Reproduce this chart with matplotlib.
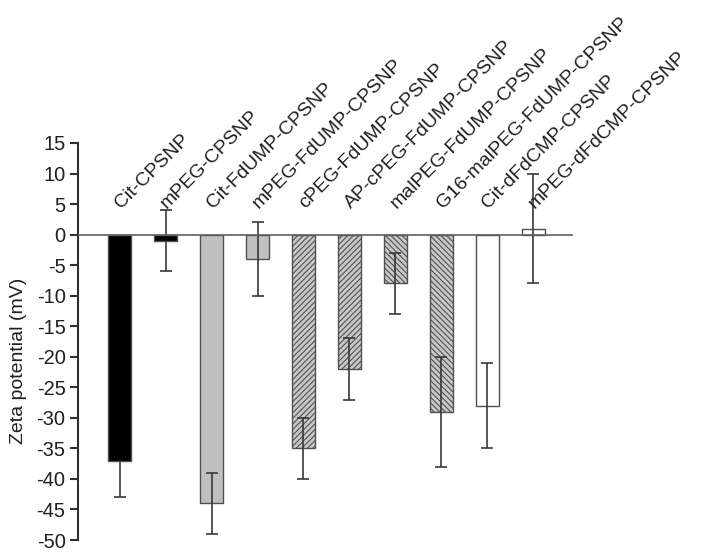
import matplotlib
matplotlib.use("Agg")
import matplotlib.pyplot as plt

plt.rcParams["font.family"] = ["Liberation Sans", "DejaVu Sans"]
plt.rcParams["hatch.color"] = "#404040"
plt.rcParams["hatch.linewidth"] = 0.8

labels = ["Cit-CPSNP", "mPEG-CPSNP", "Cit-FdUMP-CPSNP", "mPEG-FdUMP-CPSNP",
          "cPEG-FdUMP-CPSNP", "AP-cPEG-FdUMP-CPSNP", "malPEG-FdUMP-CPSNP",
          "G16-malPEG-FdUMP-CPSNP", "Cit-dFdCMP-CPSNP", "mPEG-dFdCMP-CPSNP"]
values = [-37, -1, -44, -4, -35, -22, -8, -29, -28, 1]
errors = [6, 5, 5, 6, 5, 5, 5, 9, 7, 9]
faces = ["black", "black", "#c0c0c0", "#c0c0c0", "#c8c8c8", "#c8c8c8",
         "#c8c8c8", "#c8c8c8", "white", "white"]
hatches = ["", "", "", "", "//////", "//////", "\\\\\\\\\\\\", "\\\\\\\\\\\\", "", ""]
yticks = list(range(-50, 16, 5))

fig = plt.figure(figsize=(7.04, 5.56), dpi=100)
ax = fig.add_axes([78 / 704, 1 - 540 / 556, (573 - 78) / 704, 397 / 556])

x = list(range(len(values)))
for i in x:
    ax.bar(i, values[i], width=0.5, color=faces[i], edgecolor="#505050",
           linewidth=1.0, hatch=hatches[i], zorder=2)
    # error bars sit behind the solid black bars, in front of the others
    ax.errorbar(i, values[i], yerr=errors[i], fmt="none", ecolor="#383838",
                elinewidth=1.2, capsize=4, capthick=1.2,
                zorder=1 if faces[i] == "black" else 3)

ax.axhline(0, color="#606060", linewidth=1.2, zorder=4)

for i, lab in enumerate(labels):
    ax.text(i + 0.09, 3.7, lab, rotation=45, rotation_mode="anchor",
            ha="left", va="bottom", fontsize=14, color="#202020")

ax.set_xlim(-0.91, 9.87)
ax.set_ylim(-50, 15)
ax.set_yticks(yticks)
ax.set_yticklabels([str(t) for t in yticks], fontsize=14.5, color="#202020")
ax.set_xticks([])
ax.set_ylabel("Zeta potential (mV)", fontsize=14, color="#202020")
ax.yaxis.set_label_coords(-0.103, 0.45)

for s in ["top", "right", "bottom"]:
    ax.spines[s].set_visible(False)
ax.spines["left"].set_color("#303030")
ax.spines["left"].set_linewidth(1.5)
ax.tick_params(axis="y", direction="out", length=6, width=1.5, color="#303030", pad=3)

fig.savefig("out.png", dpi=100)
